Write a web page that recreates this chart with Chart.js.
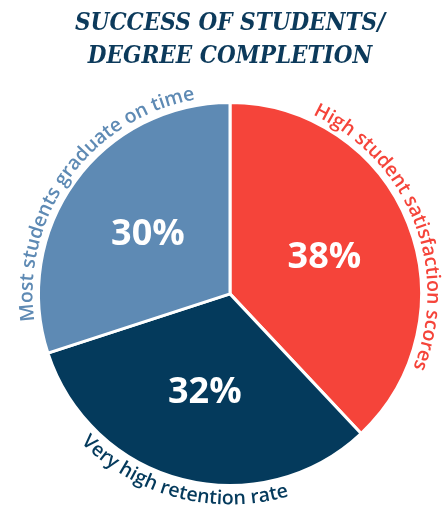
<!DOCTYPE html>
<html>
<head>
<meta charset="utf-8">
<script src="https://cdn.jsdelivr.net/npm/chart.js@4.4.1/dist/chart.umd.min.js"></script>
<style>
  body { margin: 0; background: #fff; }
  #wrap { width: 448px; height: 510px; position: relative; }
</style>
</head>
<body>
<div id="wrap"><canvas id="pieChart"></canvas></div>
<script>
const titleLines = ['SUCCESS OF STUDENTS/', 'DEGREE COMPLETION'];
const categories = ['High student satisfaction scores', 'Very high retention rate', 'Most students graduate on time'];
const shares = [38, 32, 30];
const sliceColors = ['#f5443a', '#043a5c', '#5e8ab4'];

// curved text around the pie, one character at a time
function drawArcText(ctx, text, cx, cy, r, mid, flip) {
  const widths = [...text].map(ch => ctx.measureText(ch).width);
  const total = widths.reduce((a, b) => a + b, 0);
  let acc = 0;
  [...text].forEach((ch, i) => {
    const w = widths[i];
    let a;
    if (flip) {
      a = mid + total / (2 * r) - (acc + w / 2) / r;
    } else {
      a = mid - total / (2 * r) + (acc + w / 2) / r;
    }
    ctx.save();
    ctx.translate(cx + r * Math.cos(a), cy + r * Math.sin(a));
    ctx.rotate(flip ? a - Math.PI / 2 : a + Math.PI / 2);
    ctx.fillText(ch, 0, 0);
    ctx.restore();
    acc += w;
  });
}

const pieLabels = {
  id: 'pieLabels',
  afterDatasetsDraw(chart) {
    const ctx = chart.ctx;
    const meta = chart.getDatasetMeta(0);
    meta.data.forEach((arc, i) => {
      const { x, y, startAngle, endAngle, outerRadius } = arc.getProps(['x', 'y', 'startAngle', 'endAngle', 'outerRadius'], true);
      const mid = (startAngle + endAngle) / 2;
      ctx.save();
      // percentage inside the slice
      ctx.fillStyle = '#ffffff';
      ctx.font = 'bold 36px "Open Sans"';
      ctx.textAlign = 'center';
      ctx.textBaseline = 'middle';
      const pr = outerRadius * 0.53;
      ctx.fillText(shares[i] + '%', x + pr * Math.cos(mid), y + pr * Math.sin(mid) + 1);
      // category name along the rim
      ctx.fillStyle = sliceColors[i];
      ctx.font = '600 19.5px "Open Sans"';
      ctx.textBaseline = 'alphabetic';
      const flip = Math.sin(mid) > 0.6;
      drawArcText(ctx, categories[i], x, y, outerRadius + (flip ? 19 : 6), mid, flip);
      ctx.restore();
    });
  }
};

new Chart(document.getElementById('pieChart'), {
  type: 'pie',
  data: {
    labels: categories,
    datasets: [{
      data: shares,
      backgroundColor: sliceColors,
      borderColor: '#ffffff',
      borderWidth: 3,
      radius: 191.5
    }]
  },
  options: {
    responsive: true,
    maintainAspectRatio: false,
    animation: false,
    events: [],
    layout: {
      padding: { left: 40, right: 28, bottom: 26, top: 0 }
    },
    plugins: {
      legend: { display: false },
      tooltip: { enabled: false },
      title: {
        display: true,
        text: titleLines,
        color: '#0c3a5b',
        font: { family: '"DejaVu Serif Condensed", "DejaVu Serif"', size: 24, weight: 'bold', style: 'italic', lineHeight: 1.35 },
        padding: { top: 8, bottom: 31 }
      }
    }
  },
  plugins: [pieLabels]
});
</script>
</body>
</html>
